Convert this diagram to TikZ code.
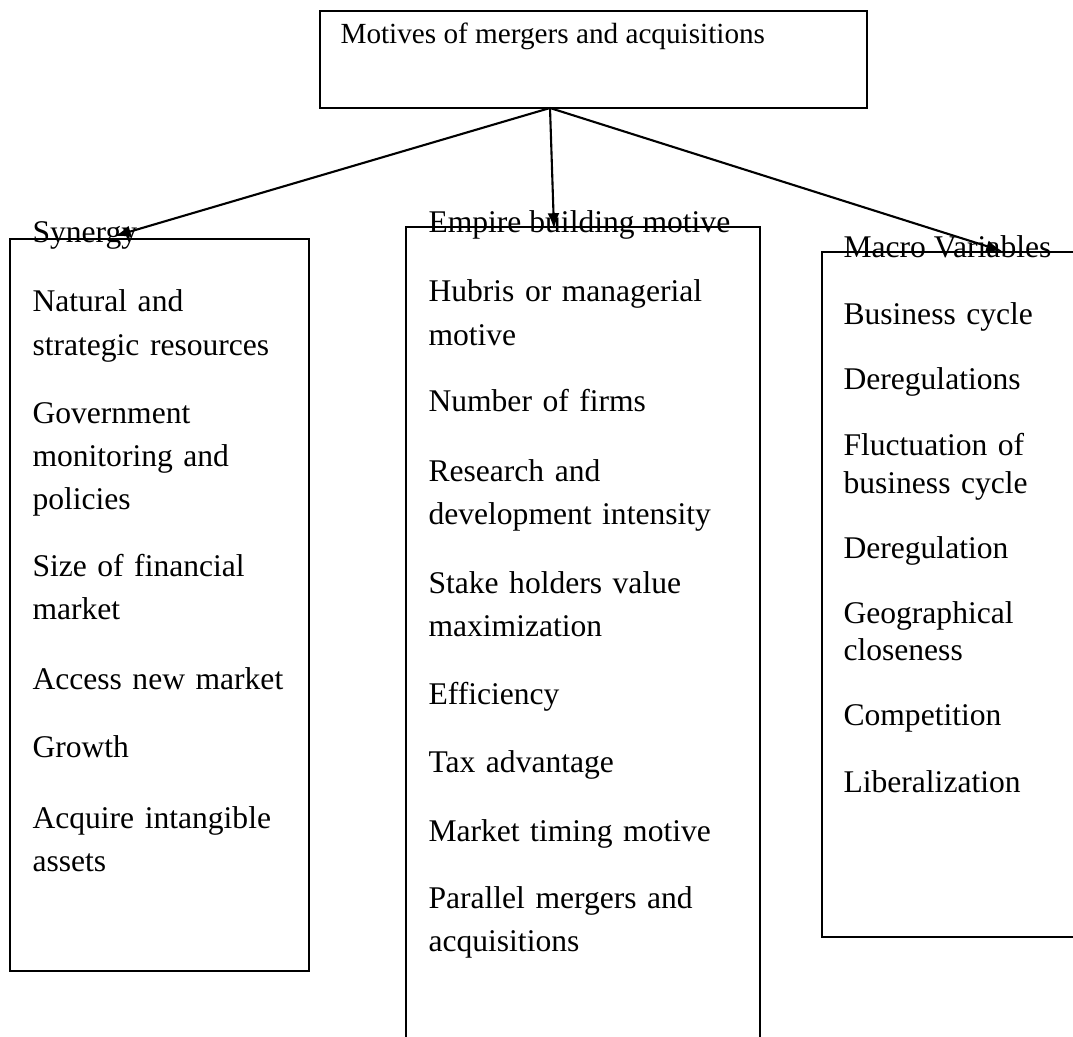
\documentclass[tikz,border=0pt]{standalone}
\usepackage{fontspec}
\setmainfont{Liberation Serif}
\usetikzlibrary{arrows.meta,fit,positioning}

\tikzset{
  frame/.style={draw, line width=0.8pt, inner sep=0pt},
  head/.style={anchor=base west, inner sep=0pt, font=\fontsize{12}{16.5}\selectfont},
  item/.style={anchor=base west, inner sep=0pt, text width=#1, align=left,
    font=\fontsize{12}{16.5}\selectfont},
  tight/.style={font=\fontsize{12}{14.4}\selectfont},
  link/.style={line width=0.8pt, -{Latex[length=6pt,width=4.5pt]}},
}

\begin{document}
\begin{tikzpicture}[x=0.38pt, y=-0.38pt]
   \useasboundingbox (0,0) rectangle (1073,1037);
   \clip (0,0) rectangle (1073,1037);

   % top box
   \node[frame, fit={(320,11) (867,108)}] (motives) {};
   \node[head, font=\fontsize{11.1}{14}\selectfont] (title) at (340,44) {Motives of mergers and acquisitions};

   % the three column boxes (middle and right run off the page)
   \node[frame, fit={(10,239) (309,971)}] (synbox) {};
   \node[frame, fit={(406,227) (760,1060)}] (empbox) {};
   \node[frame, fit={(822,252) (1100,937)}] (macbox) {};

   \node[head] (synergy) at (32,243) {Synergy};
   \node[head] (empire) at (428,233) {Empire building motive};
   \node[head] (macro) at (843,258) {Macro Variables};

   % arrows
   \coordinate (hub) at (550,108);
   \coordinate (synTip) at (115,236);
   \coordinate (empTip) at (554,229);
   \coordinate (macTip) at (1002,251);
   \draw[link] (hub) -- (synTip);
   \draw[link] (hub) -- (empTip);
   \draw[link] (hub) -- (macTip);

   % Synergy
   \foreach \y/\txt [count=\i] in {312/{Natural and\\strategic resources},
       423/{Government\\monitoring and\\policies}, 576/{Size of financial\\market},
       689/{Access new market}, 757/{Growth}, 828/{Acquire intangible\\assets}}
     \node[item=105pt] (syn\i) at (32,\y) {\txt};

   % Empire building
   \foreach \y/\txt [count=\i] in {302/{Hubris or managerial\\motive}, 412/{Number of firms},
       481/{Research and\\development intensity}, 593/{Stake holders value\\maximization},
       704/{Efficiency}, 772/{Tax advantage}, 841/{Market timing motive},
       908/{Parallel mergers and\\acquisitions}}
     \node[item=125pt] (emp\i) at (428,\y) {\txt};

   % Macro variables
   \foreach \y/\txt [count=\i] in {325/{Business cycle}, 389/{Deregulations},
       456/{Fluctuation of\\business cycle}, 558/{Deregulation},
       623/{Geographical\\closeness}, 725/{Competition}, 792/{Liberalization}}
     \node[item=85pt, tight] (mac\i) at (843,\y) {\txt};
\end{tikzpicture}
\end{document}
